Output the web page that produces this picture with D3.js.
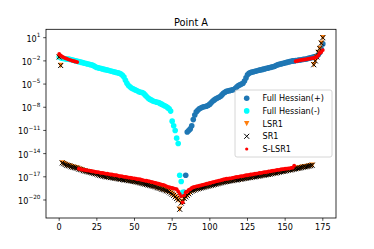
<!DOCTYPE html>
<html>
<head>
<meta charset="utf-8">
<script src="https://cdn.jsdelivr.net/npm/d3@7"></script>
<style>
  html, body { margin: 0; padding: 0; background: #fff; }
  svg { display: block; }
  text { font-family: "DejaVu Sans", sans-serif; fill: #000; }
</style>
</head>
<body>
<div id="chart"></div>
<script>
// values are log10 of eigenvalue magnitude, one per index
var xTicks = [0, 25, 50, 75, 100, 125, 150, 175]
var yTickExp = [1, -2, -5, -8, -11, -14, -17, -20]

// Full Hessian(-), index 0..82
var hessNegStart = 0
var hessNegExp = [
  -1.5, -1.6, -1.65, -1.7, -1.72, -1.75, -1.77, -1.8, -1.85, -1.9,
  -1.95, -2.0, -2.05, -2.1, -2.15, -2.2, -2.25, -2.3, -2.35, -2.4,
  -2.45, -2.5, -2.55, -2.65, -2.75, -2.85, -2.9, -2.95, -3.0, -3.05,
  -3.1, -3.15, -3.2, -3.25, -3.3, -3.35, -3.4, -3.45, -3.5, -3.55,
  -3.6, -3.7, -3.85, -4.1, -4.5, -4.9, -5.2, -5.35, -5.5, -5.6,
  -5.7, -5.8, -5.9, -6.0, -6.05, -6.1, -6.2, -6.4, -6.6, -6.8,
  -6.95, -7.05, -7.15, -7.25, -7.3, -7.35, -7.4, -7.5, -7.6, -7.7,
  -7.8, -7.9, -8.05, -8.2, -8.5, -9.8, -10.4, -11.0, -12.0, -12.7,
  -16.8, -17.6, -19.0
]

// Full Hessian(+), index 83..175
var hessPosStart = 83
var hessPosExp = [
  -19.0, -16.8, -11.2, -11.0, -10.8, -10.4, -9.6,
  -9.0, -8.6, -8.4, -8.2, -8.1, -8.0, -7.95, -7.9, -7.85, -7.75,
  -7.6, -7.4, -7.2, -7.05, -6.9, -6.8, -6.7, -6.6, -6.4, -6.2,
  -6.05, -5.95, -5.9, -5.85, -5.8, -5.75, -5.7, -5.55, -5.35, -5.2,
  -5.1, -5.0, -4.9, -4.6, -4.2, -3.8, -3.6, -3.5, -3.45, -3.4,
  -3.35, -3.3, -3.25, -3.2, -3.15, -3.1, -3.05, -3.0, -2.95, -2.9,
  -2.85, -2.8, -2.75, -2.7, -2.6, -2.5, -2.45, -2.4, -2.35, -2.3,
  -2.25, -2.2, -2.15, -2.1, -2.05, -2.0, -2.0, -1.95, -1.95, -1.9,
  -1.9, -1.85, -1.8, -1.78, -1.75, -1.7, -1.65, -1.6, -1.55, -1.5,
  -1.45, -1.4, -1.2, -0.9, -0.5, 0.2
]

// SR1, index 0..175
var sr1Exp = [
  -1.5, -2.6, -15.2, -15.3, -15.4, -15.5, -15.55, -15.6, -15.7, -15.75,
  -15.8, -15.85, -15.9, -16.0, -16.05, -16.1, -16.2, -16.25, -16.3, -16.35,
  -16.4, -16.45, -16.5, -16.55, -16.6, -16.65, -16.75, -16.8, -16.85, -16.9,
  -16.95, -17.0, -17.0, -17.05, -17.1, -17.1, -17.15, -17.2, -17.2, -17.25,
  -17.3, -17.3, -17.35, -17.4, -17.4, -17.45, -17.5, -17.5, -17.55, -17.6,
  -17.6, -17.65, -17.7, -17.75, -17.8, -17.85, -17.9, -17.95, -18.0, -18.05,
  -18.1, -18.15, -18.2, -18.25, -18.3, -18.4, -18.45, -18.5, -18.6, -18.65,
  -18.7, -18.8, -18.85, -18.95, -19.1, -19.25, -19.4, -19.6, -19.8, -20.0,
  -21.2, -20.4, -20.2, -19.8, -19.6, -19.4, -19.2, -19.0, -18.85, -18.75,
  -18.7, -18.6, -18.55, -18.5, -18.45, -18.4, -18.35, -18.3, -18.25, -18.2,
  -18.15, -18.1, -18.05, -18.0, -17.95, -17.9, -17.85, -17.8, -17.75, -17.7,
  -17.65, -17.6, -17.6, -17.55, -17.5, -17.5, -17.45, -17.4, -17.4, -17.35,
  -17.3, -17.3, -17.25, -17.2, -17.2, -17.15, -17.1, -17.1, -17.05, -17.0,
  -17.0, -16.95, -16.9, -16.9, -16.85, -16.8, -16.8, -16.75, -16.7, -16.7,
  -16.65, -16.6, -16.55, -16.5, -16.5, -16.45, -16.4, -16.35, -16.3, -16.3,
  -16.25, -16.2, -16.15, -16.1, -16.1, -16.05, -16.0, -15.95, -15.9, -15.9,
  -15.85, -15.8, -15.75, -15.7, -15.7, -15.65, -15.6, -15.55, -15.5, -2.5,
  -2.0, -1.5, -0.9, -0.4, 0.3, 1.0
]

// LSR1 sits right under SR1 in the picture
var lsr1Exp = sr1Exp.slice()

// S-LSR1, index 0..175
var slsr1Exp = [
  -1.1, -1.3, -1.45, -1.55, -1.65, -1.72, -1.8, -1.87, -1.93, -2.0,
  -2.05, -2.1, -2.15, -15.95, -16.0, -16.05, -16.1, -16.1, -16.15, -16.2,
  -16.2, -16.25, -16.3, -16.3, -16.35, -16.4, -16.4, -16.45, -16.5, -16.5,
  -16.55, -16.6, -16.6, -16.65, -16.7, -16.7, -16.75, -16.8, -16.8, -16.85,
  -16.9, -16.9, -16.95, -17.0, -17.0, -17.05, -17.1, -17.1, -17.15, -17.2,
  -17.2, -17.25, -17.3, -17.3, -17.35, -17.4, -17.45, -17.5, -17.5, -17.55,
  -17.6, -17.65, -17.7, -17.75, -17.8, -17.85, -17.9, -17.95, -18.0, -18.05,
  -18.1, -18.2, -18.3, -18.35, -18.4, -18.45, -18.5, -18.55, -18.6, -18.9,
  -19.2, -19.5, -20.3, -19.4, -19.0, -18.9, -18.7, -18.6, -18.45, -18.35,
  -18.3, -18.25, -18.2, -18.15, -18.1, -18.05, -18.0, -17.95, -17.9, -17.85,
  -17.8, -17.75, -17.7, -17.65, -17.6, -17.55, -17.5, -17.45, -17.4, -17.35,
  -17.3, -17.25, -17.25, -17.2, -17.2, -17.15, -17.1, -17.05, -17.0, -17.0,
  -16.95, -16.9, -16.9, -16.85, -16.8, -16.8, -16.75, -16.7, -16.7, -16.65,
  -16.6, -16.6, -16.55, -16.5, -16.5, -16.45, -16.4, -16.4, -16.35, -16.3,
  -16.3, -16.25, -16.2, -16.2, -16.15, -16.1, -16.1, -16.05, -16.0, -16.0,
  -15.95, -15.95, -15.9, -15.9, -15.85, -15.8, -15.55, -2.05, -2.0, -1.95,
  -1.9, -1.88, -1.85, -1.82, -1.8, -1.75, -1.72, -1.68, -1.65, -1.6,
  -1.55, -1.5, -1.3, -1.0, -0.85, -0.6
]

var W = 374, H = 249
var plotLeft = 46, plotRight = 336, plotTop = 29.3, plotBottom = 218

var svg = d3.select("#chart").append("svg").attr("width", W).attr("height", H)

var x = d3.scaleLinear().domain([-8.75, 183.75]).range([plotLeft, plotRight])
var y = d3.scaleLog().domain([Math.pow(10, -22.33), Math.pow(10, 2.086)]).range([plotBottom, plotTop])

function toPoints(start, arr) {
  return arr.map(function (e, k) { return { i: start + k, v: Math.pow(10, e) } })
}

var r = 2.8     // circle radius
var tr = 2.7    // triangle half size
var xr = 2.5    // cross half size

function circles(data, color, rad) {
  svg.append("g").selectAll("circle").data(data).enter().append("circle")
    .attr("cx", function (d) { return x(d.i) })
    .attr("cy", function (d) { return y(d.v) })
    .attr("r", rad)
    .attr("fill", color)
}
// full hessian (+) and (-)
circles(toPoints(hessPosStart, hessPosExp), "#1f77b4", r)
circles(toPoints(hessNegStart, hessNegExp), "#00ffff", r)

var triPath = "M0," + tr + "L" + (-tr) + "," + (-tr) + "L" + tr + "," + (-tr) + "Z"
var xPath = "M" + (-xr) + "," + (-xr) + "L" + xr + "," + xr + "M" + (-xr) + "," + xr + "L" + xr + "," + (-xr)

// LSR1 triangles
svg.append("g").selectAll("path").data(toPoints(0, lsr1Exp)).enter().append("path")
  .attr("d", triPath)
  .attr("transform", function (d) { return "translate(" + x(d.i) + "," + y(d.v) + ")" })
  .attr("fill", "#ff7f0e")

// SR1 crosses
svg.append("g").selectAll("path").data(toPoints(0, sr1Exp)).enter().append("path")
  .attr("d", xPath)
  .attr("transform", function (d) { return "translate(" + x(d.i) + "," + y(d.v) + ")" })
  .attr("fill", "none").attr("stroke", "#000").attr("stroke-width", 1)

// S-LSR1 dots
circles(toPoints(0, slsr1Exp), "red", 1.9)

// frame
svg.append("rect").attr("x", plotLeft).attr("y", plotTop).attr("width", plotRight - plotLeft).attr("height", plotBottom - plotTop)
  .attr("fill", "none").attr("stroke", "#000").attr("stroke-width", 0.8)

// x axis
var gx = svg.append("g")
xTicks.forEach(function (t) {
  gx.append("line").attr("x1", x(t)).attr("x2", x(t)).attr("y1", plotBottom).attr("y2", plotBottom + 2.8)
    .attr("stroke", "#000").attr("stroke-width", 0.7)
  gx.append("text").attr("x", x(t)).attr("y", plotBottom + 11.8).attr("text-anchor", "middle")
    .attr("font-size", 8.1).text(t)
})

// y axis, 10^n labels
var gy = svg.append("g")
yTickExp.forEach(function (e) {
  var ty = y(Math.pow(10, e))
  gy.append("line").attr("x1", plotLeft).attr("x2", plotLeft - 2.8).attr("y1", ty).attr("y2", ty)
    .attr("stroke", "#000").attr("stroke-width", 0.7)
  var t = gy.append("text").attr("x", plotLeft - 5.6).attr("y", ty + 3.9).attr("text-anchor", "end").attr("font-size", 8.1)
  t.append("tspan").text("10")
  t.append("tspan").attr("dy", -4.5).attr("font-size", 5.7).text(String(e).replace("-", "\u2212"))
})

// title
svg.append("text").attr("x", (plotLeft + plotRight) / 2).attr("y", 25.5).attr("text-anchor", "middle")
  .attr("font-size", 9.8).text("Point A")

// legend
var legendNames = ["Full Hessian(+)", "Full Hessian(-)", "LSR1", "SR1", "S-LSR1"]
var lg = svg.append("g")
lg.append("rect").attr("x", 235).attr("y", 90).attr("width", 97).attr("height", 67).attr("rx", 2)
  .attr("fill", "#fff").attr("fill-opacity", 0.8).attr("stroke", "#ccc").attr("stroke-width", 0.8)
legendNames.forEach(function (name, k) {
  var cy = 98.2 + k * 12.7
  var mx = 246.7
  if (k === 0) lg.append("circle").attr("cx", mx).attr("cy", cy).attr("r", r).attr("fill", "#1f77b4")
  if (k === 1) lg.append("circle").attr("cx", mx).attr("cy", cy).attr("r", r).attr("fill", "#00ffff")
  if (k === 2) lg.append("path").attr("d", triPath).attr("transform", "translate(" + mx + "," + cy + ")").attr("fill", "#ff7f0e")
  if (k === 3) lg.append("path").attr("d", xPath).attr("transform", "translate(" + mx + "," + cy + ")")
    .attr("fill", "none").attr("stroke", "#000").attr("stroke-width", 1)
  if (k === 4) lg.append("circle").attr("cx", mx).attr("cy", cy).attr("r", 1.6).attr("fill", "red")
  lg.append("text").attr("x", 262.5).attr("y", cy + 3).attr("font-size", 8.1).text(name)
})
</script>
</body>
</html>
